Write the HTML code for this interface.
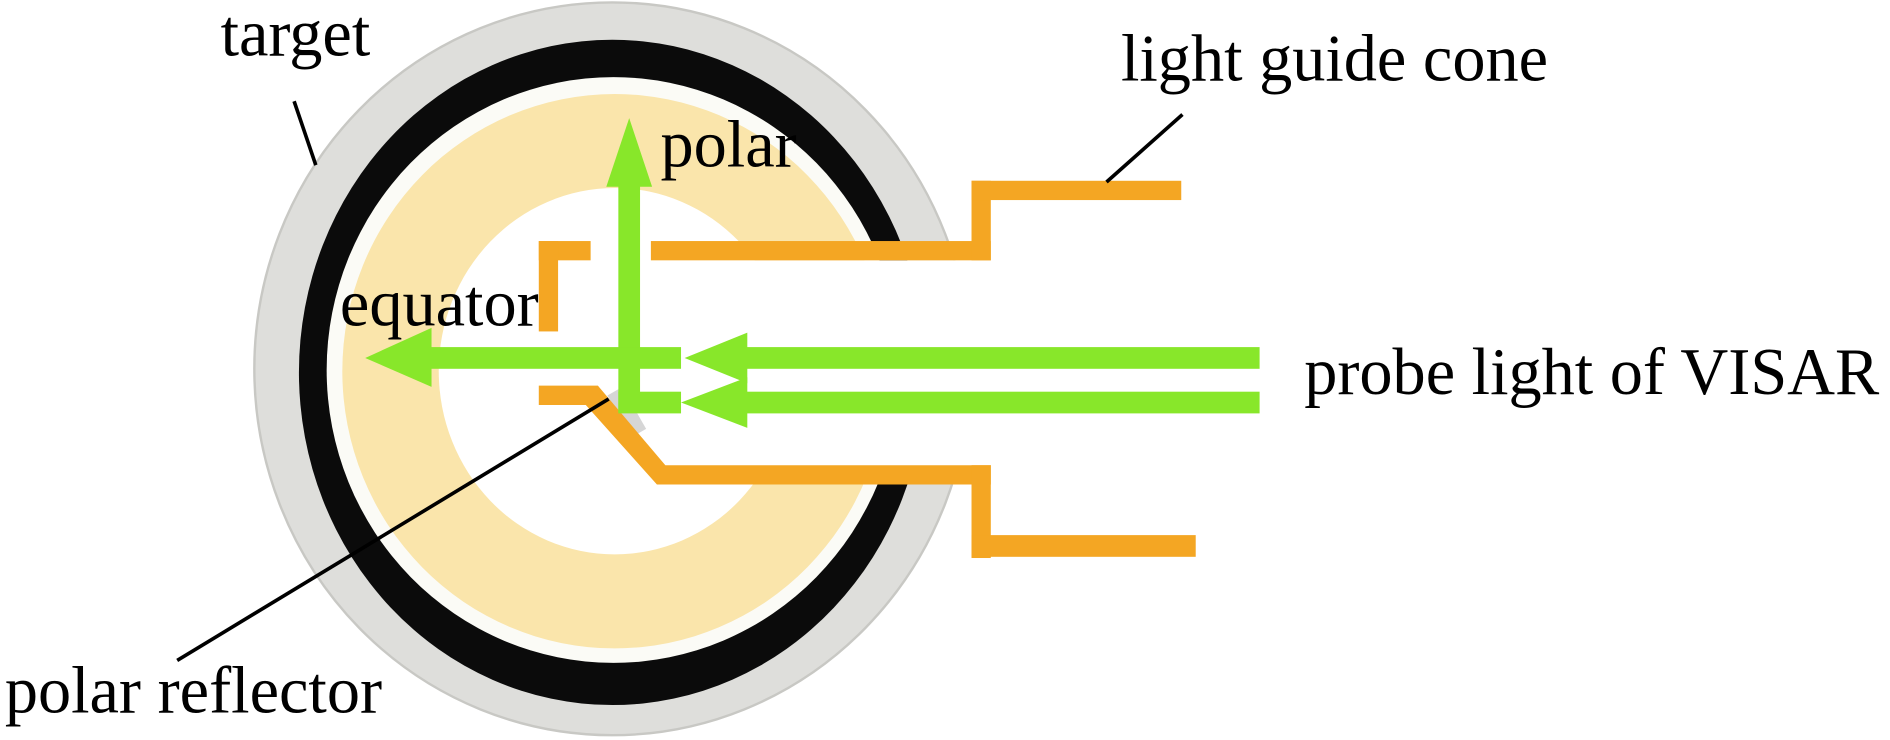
<!DOCTYPE html>
<html><head><meta charset="utf-8"><style>html,body{margin:0;padding:0;background:#fff;}svg{display:block}</style></head>
<body>
<svg width="1890" height="740" viewBox="0 0 1568 614" preserveAspectRatio="none" xmlns="http://www.w3.org/2000/svg">
<rect width="1568" height="614" fill="#fff"/>
<ellipse cx="508" cy="306" rx="297" ry="304" fill="#dededb" stroke="#c8c8c4" stroke-width="2"/>
<ellipse cx="508" cy="309" rx="260" ry="276" fill="#0b0b0b"/>
<ellipse cx="509" cy="307" rx="238" ry="243" fill="#fbfbf6"/>
<ellipse cx="510" cy="308" rx="226" ry="230" fill="#fae5ab"/>
<ellipse cx="510" cy="308" rx="146" ry="152" fill="#fff"/>
<rect x="560" y="216" width="300" height="178" fill="#fff"/>
<!-- gray reflector -->
<rect x="513" y="322" width="14" height="40" fill="#d6d6d6" transform="rotate(-30 520 342)"/>
<!-- orange guides -->
<g fill="#f4a623">
<rect x="540" y="200" width="282" height="16"/>
<rect x="806" y="150" width="16" height="66"/>
<rect x="806" y="150" width="174" height="16"/>
<rect x="447" y="200" width="43" height="16"/>
<rect x="447" y="200" width="16" height="75"/>
<polygon points="447,320 496,320 552,386 822,386 822,402 545,402 486,336 447,336"/>
<rect x="806" y="386" width="16" height="77"/>
<rect x="806" y="444" width="186" height="18"/>
</g>
<!-- green arrows -->
<g fill="#88e72a">
<rect x="513" y="150" width="18" height="192"/>
<polygon points="522,98 541,155 503,155"/>
<rect x="350" y="288" width="215" height="18"/>
<polygon points="303,297 358,272 358,321"/>
<rect x="617" y="288" width="428" height="18"/>
<polygon points="568,297 620,276 620,318"/>
<rect x="513" y="325" width="52" height="18"/>
<rect x="617" y="325" width="428" height="18"/>
<polygon points="565,334 620,313 620,355"/>
</g>
<!-- leader lines -->
<g stroke="#000" stroke-width="3">
<line x1="244" y1="84" x2="262" y2="137"/>
<line x1="981" y1="95" x2="918" y2="151"/>
<line x1="147" y1="548" x2="505" y2="331"/>
</g>
<g font-family="Liberation Serif, serif" font-size="55" fill="#000">
<text x="183" y="46">target</text>
<text x="930" y="67">light guide cone</text>
<text x="548" y="138">polar</text>
<text x="282" y="270">equator</text>
<text x="1082" y="327">probe light of VISAR</text>
<text x="4" y="591">polar reflector</text>
</g>
</svg>
</body></html>
